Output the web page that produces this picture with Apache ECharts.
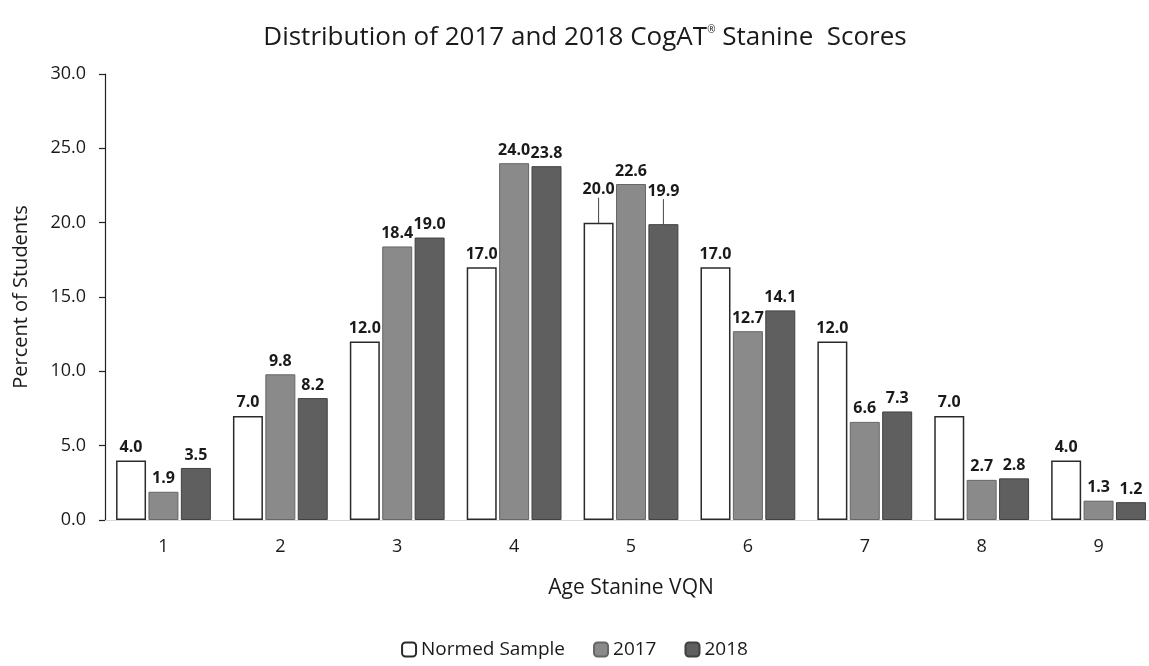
<!DOCTYPE html>
<html>
<head>
<meta charset="utf-8">
<script src="https://cdn.jsdelivr.net/npm/echarts@6/dist/echarts.min.js"></script>
<style>
  html, body { margin: 0; padding: 0; background: #ffffff; }
  #chart { width: 1149px; height: 666px; }
</style>
</head>
<body>
<div id="chart"></div>
<script>
// Stanine categories and percent of students in each
const stanines = ['1', '2', '3', '4', '5', '6', '7', '8', '9'];
const normedSample = [4.0, 7.0, 12.0, 17.0, 20.0, 17.0, 12.0, 7.0, 4.0];
const scores2017 = [1.9, 9.8, 18.4, 24.0, 22.6, 12.7, 6.6, 2.7, 1.3];
const scores2018 = [3.5, 8.2, 19.0, 23.8, 19.9, 14.1, 7.3, 2.8, 1.2];
const yTicks = { min: 0, max: 30, interval: 5 };

const FONT = '"Open Sans", "Liberation Sans", sans-serif';

// Labels that sit crowded next to a taller neighbour are lifted and tied back with a leader line
const liftedLabels = { 0: [4], 2: [4] };

function barSeries(name, values, idx, style) {
  return {
    name: name,
    type: 'bar',
    barWidth: 30,
    barGap: '8%',
    data: values.map((v, i) => {
      const item = { value: v };
      if ((liftedLabels[idx] || []).includes(i)) {
        item.labelLine = { show: true, lineStyle: { color: '#444', width: 1 } };
      }
      return item;
    }),
    itemStyle: style,
    label: {
      show: true,
      position: 'top',
      distance: 5,
      fontFamily: FONT,
      fontWeight: 'bold',
      fontSize: 16,
      color: '#1a1a1a',
      formatter: p => p.value.toFixed(1)
    },
    labelLayout: function (params) {
      if ((liftedLabels[idx] || []).includes(params.dataIndex)) {
        return { dy: -20 };
      }
      return {};
    }
  };
}

const chart = echarts.init(document.getElementById('chart'), null, { renderer: 'canvas' });

chart.setOption({
  backgroundColor: '#ffffff',
  animation: false,
  title: {
    text: 'Distribution of 2017 and 2018 CogAT{sup|®} Stanine  Scores',
    left: 580,
    textAlign: 'center',
    top: 20,
    textStyle: {
      fontFamily: FONT,
      fontWeight: 'normal',
      fontSize: 26,
      color: '#1a1a1a',
      rich: {
        sup: { fontSize: 10, verticalAlign: 'top', padding: [0, 0, 14, 0], fontFamily: FONT, color: '#1a1a1a' }
      }
    }
  },
  legend: {
    bottom: 2,
    left: 'center',
    itemWidth: 14,
    itemHeight: 14,
    itemGap: 28,
    textStyle: { fontFamily: FONT, fontSize: 19, color: '#1a1a1a' },
    data: ['Normed Sample', '2017', '2018']
  },
  // The plot runs slightly past the right edge of the canvas, so the bound clamp is disabled
  grid: { left: 105, width: 1052, top: 74, height: 446, containLabel: false, outerBoundsMode: 'none' },
  xAxis: {
    type: 'category',
    data: stanines,
    name: 'Age Stanine VQN',
    nameLocation: 'middle',
    nameGap: 58,
    nameTextStyle: { fontFamily: FONT, fontSize: 21, color: '#1a1a1a' },
    axisLine: { show: true, lineStyle: { color: '#d8d8d8', width: 1 } },
    axisTick: { show: false },
    axisLabel: { fontFamily: FONT, fontSize: 18, color: '#1a1a1a', margin: 18 }
  },
  yAxis: {
    type: 'value',
    min: yTicks.min,
    max: yTicks.max,
    interval: yTicks.interval,
    name: 'Percent of Students',
    nameLocation: 'middle',
    nameRotate: 90,
    nameGap: 74,
    nameTextStyle: { fontFamily: FONT, fontSize: 20, color: '#1a1a1a' },
    axisLine: { show: true, lineStyle: { color: '#222', width: 1.2 } },
    axisTick: { show: true, inside: false, length: 6, lineStyle: { color: '#222', width: 1.2 } },
    splitLine: { show: false },
    axisLabel: {
      fontFamily: FONT, fontSize: 18, color: '#1a1a1a', margin: 19,
      formatter: v => v.toFixed(1)
    }
  },
  series: [
    barSeries('Normed Sample', normedSample, 0, { color: '#ffffff', borderColor: '#2a2a2a', borderWidth: 1.5 }),
    barSeries('2017', scores2017, 1, { color: '#8a8a8a', borderColor: '#666666', borderWidth: 1 }),
    barSeries('2018', scores2018, 2, { color: '#5f5f5f', borderColor: '#404040', borderWidth: 1 })
  ]
});
</script>
</body>
</html>
